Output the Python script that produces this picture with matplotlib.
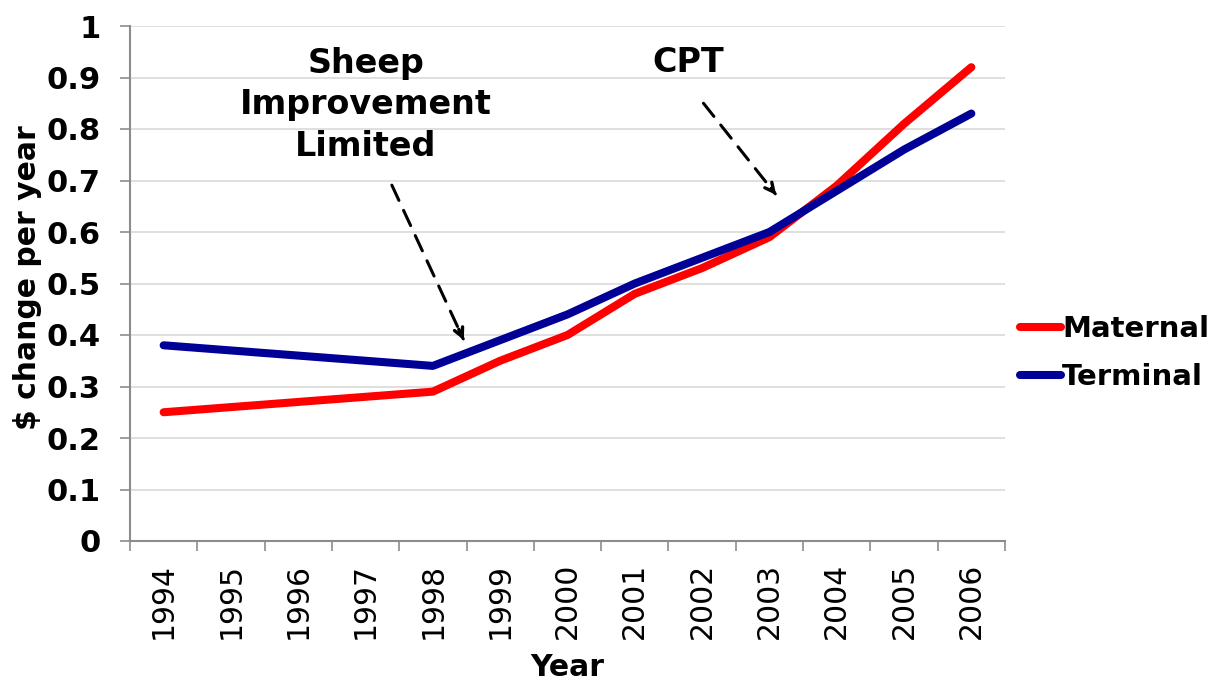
import matplotlib
matplotlib.use("Agg")
import matplotlib.pyplot as plt
import numpy as np

years = ["1994", "1995", "1996", "1997", "1998", "1999", "2000",
         "2001", "2002", "2003", "2004", "2005", "2006"]
maternal = [0.25, 0.26, 0.27, 0.28, 0.29, 0.35, 0.40, 0.48, 0.53, 0.59, 0.69, 0.81, 0.92]
terminal = [0.38, 0.37, 0.36, 0.35, 0.34, 0.39, 0.44, 0.50, 0.55, 0.60, 0.68, 0.76, 0.83]
yticks = [0, 0.1, 0.2, 0.3, 0.4, 0.5, 0.6, 0.7, 0.8, 0.9, 1]
ytick_labels = ["0", "0.1", "0.2", "0.3", "0.4", "0.5", "0.6", "0.7", "0.8", "0.9", "1"]

plt.rcParams['font.family'] = ['DejaVu Sans']

W, H = 1218, 684
fig = plt.figure(figsize=(W / 100, H / 100), dpi=100)
ax = fig.add_axes([130 / W, 1 - 541 / H, (1005 - 130) / W, (541 - 26) / H])

x = np.arange(len(years))
ax.plot(x, maternal, color='#ff0000', lw=5.8, solid_capstyle='round', solid_joinstyle='round', label='Maternal', zorder=3)
ax.plot(x, terminal, color='#000096', lw=5.8, solid_capstyle='round', solid_joinstyle='round', label='Terminal', zorder=3)

ax.set_xlim(-0.5, len(years) - 0.5)
ax.set_ylim(0, 1)
ax.set_yticks(yticks)
ax.set_yticklabels(ytick_labels, fontsize=22, fontweight='bold')
ax.set_xticks(x)
ax.set_xticklabels(years, rotation=90, fontsize=21.5)
ax.set_xticks(np.arange(-0.5, len(years), 1.0), minor=True)
ax.tick_params(axis='x', which='major', length=0, pad=15.5)
ax.tick_params(axis='x', which='minor', length=7, width=1.2, color='#8c8c8c', direction='out')
ax.tick_params(axis='y', which='major', length=7.2, width=1.2, color='#8c8c8c', direction='out', pad=14)

for s in ['top', 'right']:
    ax.spines[s].set_visible(False)
for s in ['left', 'bottom']:
    ax.spines[s].set_color('#8c8c8c')
    ax.spines[s].set_linewidth(1.5)
ax.yaxis.grid(True, color='#d9d9d9', lw=1.2)
ax.set_axisbelow(True)

fig.text(28 / W, 1 - 278 / H, '$ change per year', rotation=90, ha='center', va='center',
         fontsize=21.5, fontweight='bold')
fig.text(567 / W, 1 - 668 / H, 'Year', ha='center', va='center', fontsize=21.5, fontweight='bold')

leg = fig.legend(loc='center left', bbox_to_anchor=(1020 / W, 1 - 353 / H), frameon=False,
                 prop={'size': 21, 'weight': 'bold'}, handlelength=1.4, handletextpad=0.05,
                 labelspacing=0.68, borderaxespad=0, borderpad=0)


def dashed_arrow(x0, y0, x1, y1):
    ax.annotate('', xy=(x1, y1), xytext=(x0, y0),
                arrowprops=dict(arrowstyle='-', color='black', lw=2.2,
                                linestyle=(0, (5.5, 3.6)), shrinkA=0, shrinkB=1))
    fx = x0 + (x1 - x0) * 0.93
    fy = y0 + (y1 - y0) * 0.93
    ax.annotate('', xy=(x1, y1), xytext=(fx, fy),
                arrowprops=dict(arrowstyle='->', color='black', lw=2.4,
                                mutation_scale=16, shrinkA=0, shrinkB=0))


dashed_arrow(3.39, 0.691, 4.46, 0.39)
ax.text(3.0, 0.847, 'Sheep\nImprovement\nLimited', ha='center', va='center',
        fontsize=24, fontweight='bold', linespacing=1.32)
dashed_arrow(8.02, 0.85, 9.1, 0.672)
ax.text(7.79, 0.93, 'CPT', ha='center', va='center', fontsize=24, fontweight='bold')

fig.savefig('out.png', dpi=100)
